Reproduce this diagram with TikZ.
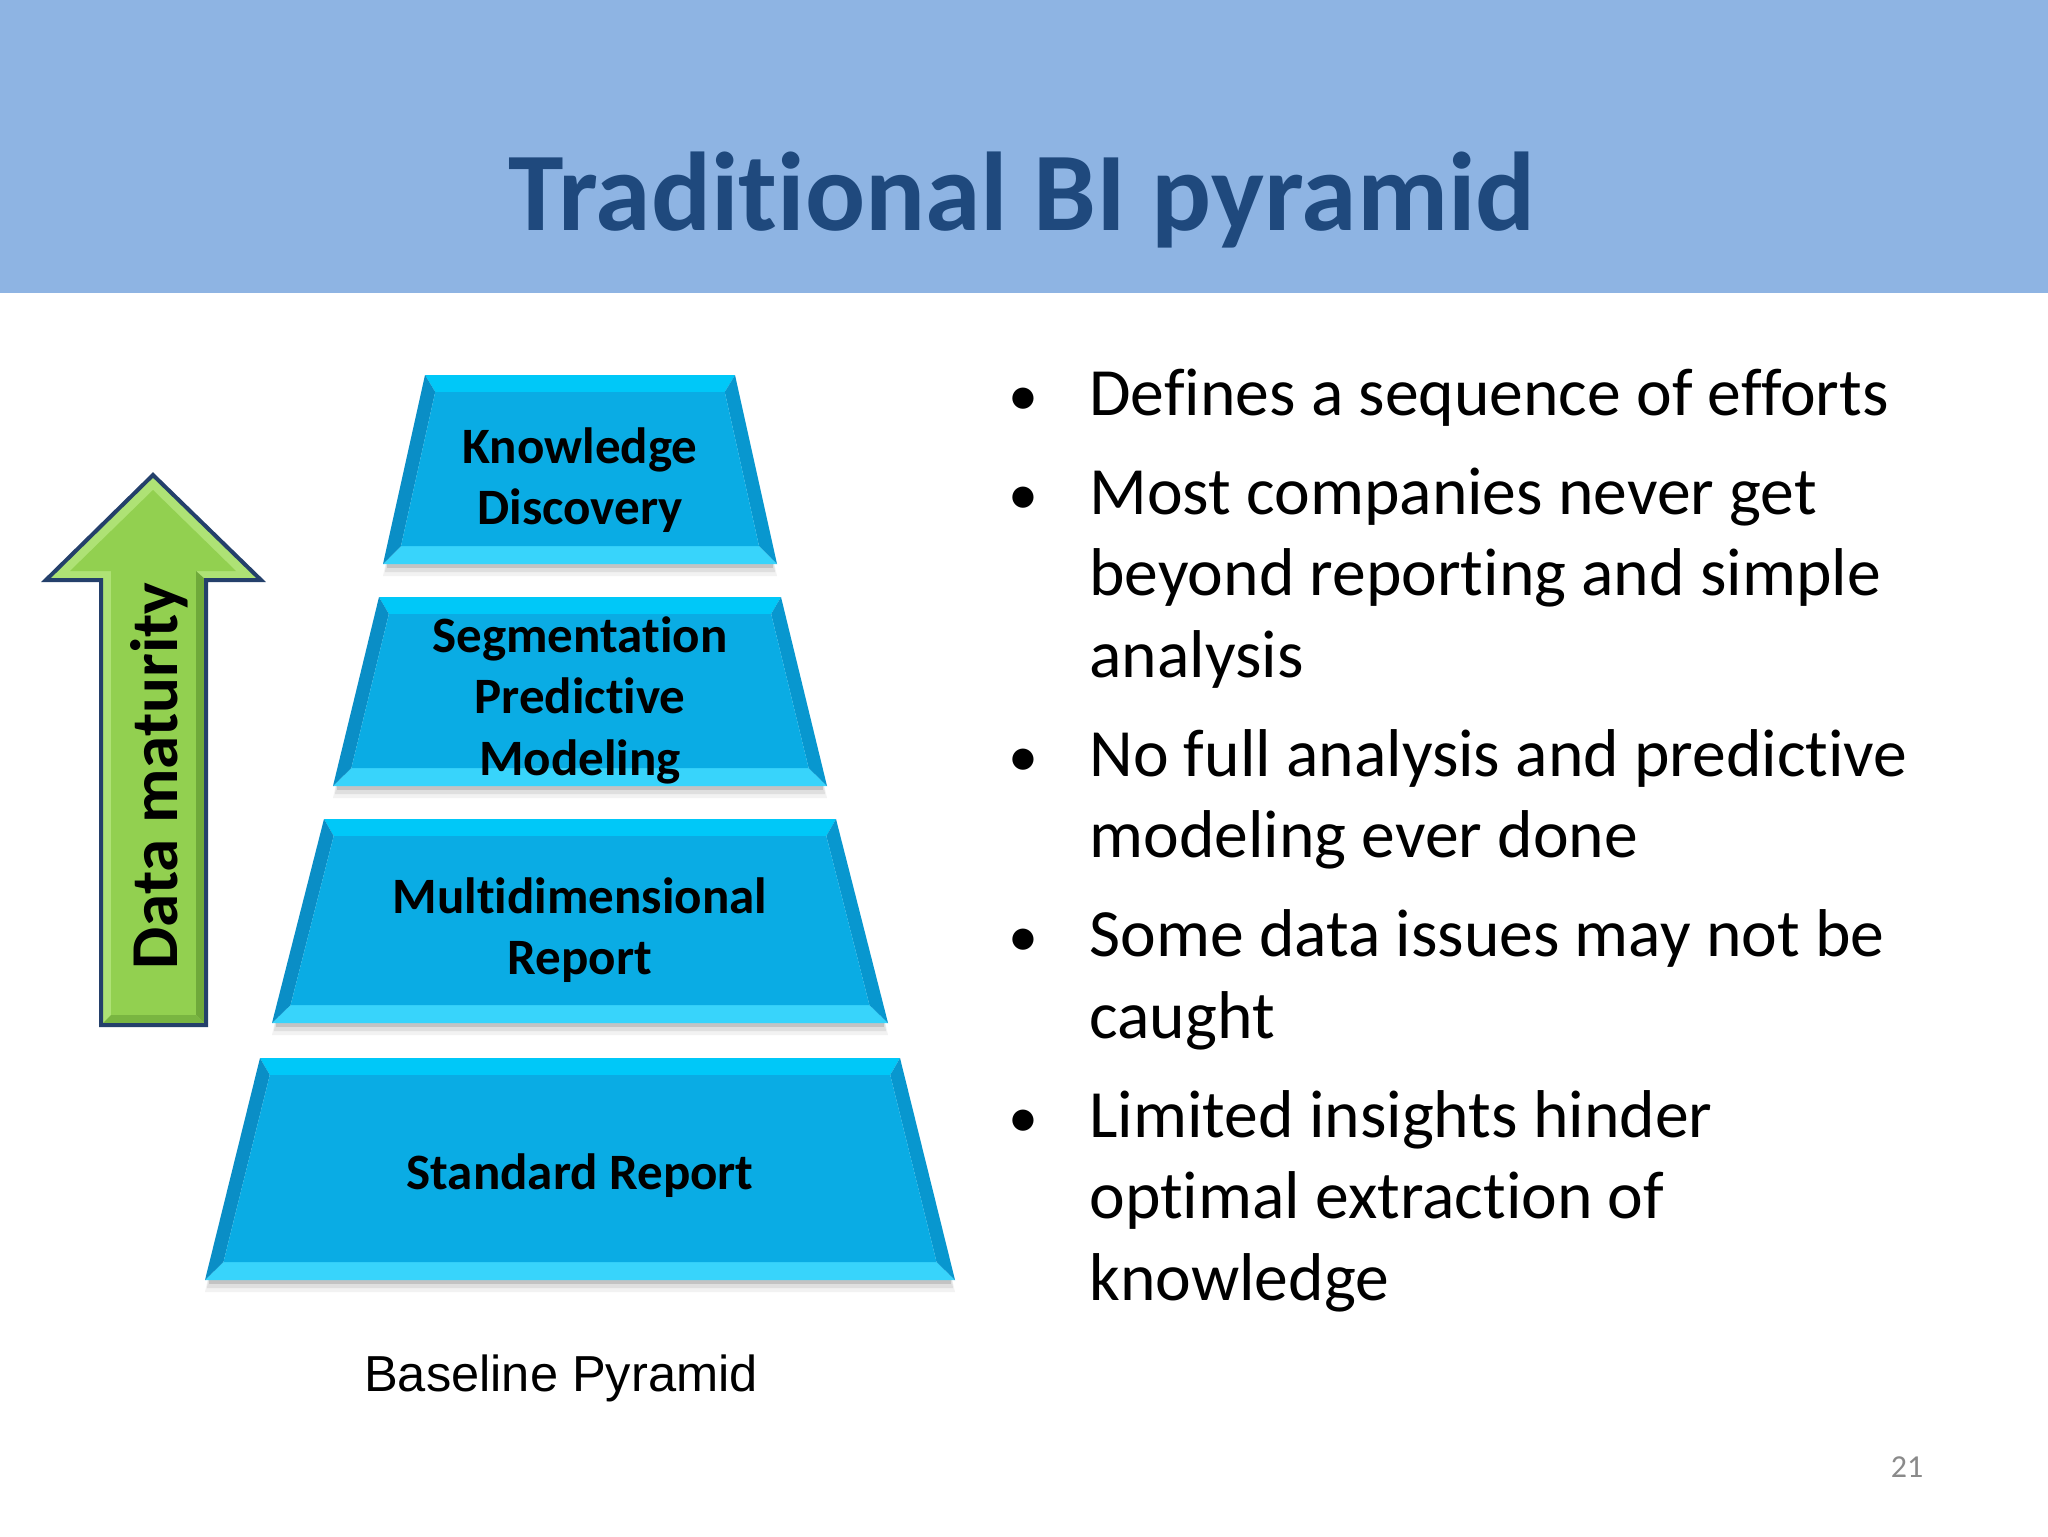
\documentclass[tikz,border=0pt]{standalone}
\usepackage{fontspec}
\setmainfont{Carlito}[RawFeature={-liga;-dlig;-clig}]
\newfontfamily\arialf{Liberation Sans}
\usetikzlibrary{calc}
\definecolor{band}{HTML}{8EB4E3}
\definecolor{titleblue}{HTML}{1F497D}
\definecolor{face}{HTML}{0AACE4}
\definecolor{topb}{HTML}{00C8F8}
\definecolor{botb}{HTML}{38D4FB}
\definecolor{leftb}{HTML}{0A8EC6}
\definecolor{rightb}{HTML}{0897CF}
\definecolor{arrgreen}{HTML}{92D050}
\definecolor{arrlight}{HTML}{AEE275}
\definecolor{arrdark}{HTML}{6FA93A}
\definecolor{arrborder}{HTML}{24406B}
\definecolor{pnum}{HTML}{8A8A8A}

\newcommand\tier[5]{% #1 name, #2 top y, #3 bottom y, #4 top half width, #5 bottom half width
  \pgfmathsetmacro\tH{#3-#2}%
  \pgfmathsetmacro\iT{#2+17}%
  \pgfmathsetmacro\iB{#3-18}%
  \pgfmathsetmacro\hT{#4+(#5-#4)*17/\tH-14}%
  \pgfmathsetmacro\hB{#5-(#5-#4)*18/\tH-14}%
  \fill[black,opacity=0.05] (580-#5+4,#3-6) -- (580+#5-4,#3-6) -- (580+#5,#3+12) -- (580-#5,#3+12) -- cycle;
  \fill[black,opacity=0.08] (580-#5+4,#3-6) -- (580+#5-4,#3-6) -- (580+#5-2,#3+8) -- (580-#5+2,#3+8) -- cycle;
  \fill[black,opacity=0.12] (580-#5+4,#3-6) -- (580+#5-4,#3-6) -- (580+#5-4,#3+4) -- (580-#5+4,#3+4) -- cycle;
  \coordinate (#1tl) at (580-#4,#2);
  \coordinate (#1tr) at (580+#4,#2);
  \coordinate (#1br) at (580+#5,#3);
  \coordinate (#1bl) at (580-#5,#3);
  \coordinate (#1itl) at (580-\hT,\iT);
  \coordinate (#1itr) at (580+\hT,\iT);
  \coordinate (#1ibr) at (580+\hB,\iB);
  \coordinate (#1ibl) at (580-\hB,\iB);
  \fill[topb] (#1tl) -- (#1tr) -- (#1itr) -- (#1itl) -- cycle;
  \fill[botb] (#1bl) -- (#1br) -- (#1ibr) -- (#1ibl) -- cycle;
  \fill[leftb] (#1tl) -- (#1itl) -- (#1ibl) -- (#1bl) -- cycle;
  \fill[rightb] (#1tr) -- (#1itr) -- (#1ibr) -- (#1br) -- cycle;
  \fill[face] (#1itl) -- (#1itr) -- (#1ibr) -- (#1ibl) -- cycle;
}

\begin{document}
\begin{tikzpicture}[x=0.5pt,y=-0.5pt,
  tiertext/.style={font=\fontsize{25.5}{30.75}\selectfont\bfseries, align=center, text=black, inner sep=0pt},
  bul/.style={font=\fontsize{33.8}{40.75}\selectfont, anchor=base west, inner sep=0pt, text=black},
  bdot/.style={font=\fontsize{30}{36}\selectfont, anchor=base, inner sep=0pt, text=black}]
\useasboundingbox (0,0) rectangle (2048,1536);
\fill[white] (0,0) rectangle (2048,1536);
\fill[band] (0,0) rectangle (2048,293);
\node[anchor=base, font=\fontsize{56}{67}\selectfont\bfseries, text=titleblue, inner sep=0pt] (title) at (1022,230) {Traditional BI pyramid};

% pyramid tiers
\tier{pa}{375}{564}{155}{197}
\tier{pb}{597}{786}{201}{247}
\tier{pc}{819}{1023}{256}{308}
\tier{pd}{1058}{1280}{320}{375}

\node[tiertext] (t1) at (580,480) {Knowledge\\Discovery};
\node[tiertext] (t2) at (580,700) {Segmentation\\Predictive\\Modeling};
\node[tiertext] (t3) at (580,930) {Multidimensional\\Report};
\node[tiertext] (t4) at (580,1176) {Standard Report};

\node[anchor=base, font=\arialf\fontsize{25.3}{30}\selectfont, inner sep=0pt] (cap) at (561,1391) {Baseline Pyramid};

% data maturity arrow
\fill[arrlight] (153,475) -- (261,580) -- (206,580) -- (206,1025) -- (101,1025) -- (101,580) -- (46,580) -- cycle;
\fill[arrgreen] (153,490) -- (236,571) -- (196,571) -- (196,1015) -- (111,1015) -- (111,571) -- (70,571) -- cycle;
\fill[arrdark] (196,571) -- (206,580) -- (206,1025) -- (196,1015) -- cycle;
\fill[arrdark!70!arrgreen] (111,1015) -- (196,1015) -- (206,1025) -- (101,1025) -- cycle;
\draw[arrborder, line width=2pt, line join=miter] (153,475) -- (261,580) -- (206,580) -- (206,1025) -- (101,1025) -- (101,580) -- (46,580) -- cycle;
\node[rotate=90, anchor=base, font=\fontsize{33.5}{40}\selectfont\bfseries, inner sep=0pt] (dm) at (177,776) {Data maturity};

% bullets
\node[bdot] (d1) at (1023,415) {•};
\node[bul] (l1) at (1089,415) {Defines a sequence of efforts};
\node[bdot] (d2) at (1023,514) {•};
\node[bul] (l2) at (1089,514) {Most companies never get};
\node[bul] (l3) at (1089,595.5) {beyond reporting and simple};
\node[bul] (l4) at (1089,677) {analysis};
\node[bdot] (d3) at (1023,776) {•};
\node[bul] (l5) at (1089,776) {No full analysis and predictive};
\node[bul] (l6) at (1089,857.5) {modeling ever done};
\node[bdot] (d4) at (1023,956.5) {•};
\node[bul] (l7) at (1089,956.5) {Some data issues may not be};
\node[bul] (l8) at (1089,1038) {caught};
\node[bdot] (d5) at (1023,1137) {•};
\node[bul] (l9) at (1089,1137) {Limited insights hinder};
\node[bul] (l10) at (1089,1218.5) {optimal extraction of};
\node[bul] (l11) at (1089,1300) {knowledge};

\node[anchor=base, font=\fontsize{16}{19}\selectfont, text=pnum, inner sep=0pt] (pg) at (1907,1477) {21};
\end{tikzpicture}
\end{document}
